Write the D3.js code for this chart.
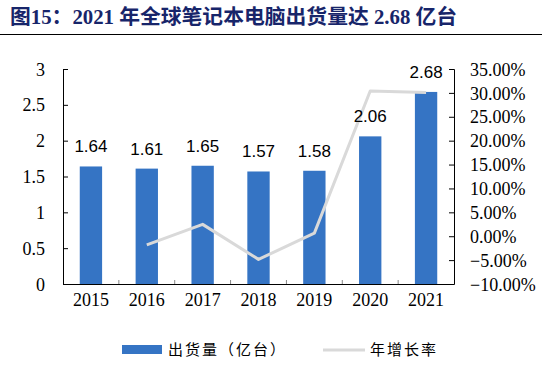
<!DOCTYPE html>
<html>
<head>
<meta charset="utf-8">
<script src="https://cdn.jsdelivr.net/npm/d3@7"></script>
<style>
  body { margin: 0; background: #fff; }
  #chart { width: 542px; height: 374px; }
</style>
</head>
<body>
<div id="chart"></div>
<script>
const years = ["2015", "2016", "2017", "2018", "2019", "2020", "2021"];
const shipments = [1.64, 1.61, 1.65, 1.57, 1.58, 2.06, 2.68];
const growth = [null, -1.83, 2.48, -4.85, 0.64, 30.38, 30.10];
const leftTicks = [0, 0.5, 1, 1.5, 2, 2.5, 3];
const rightTicks = [-10, -5, 0, 5, 10, 15, 20, 25, 30, 35];

const width = 542, height = 374;
const margin = { top: 69, right: 88, bottom: 90, left: 63 };

const svg = d3.select("#chart")
  .append("svg")
  .attr("width", width)
  .attr("height", height);

// title
svg.append("text")
  .attr("x", 10)
  .attr("y", 24)
  .attr("font-family", "'Liberation Serif', 'Noto Sans CJK SC', serif")
  .attr("font-weight", "bold")
  .attr("font-size", "20.8px")
  .attr("fill", "#17256a")
  .text("图15：2021 年全球笔记本电脑出货量达 2.68 亿台");

svg.append("line")
  .attr("x1", 0).attr("x2", width)
  .attr("y1", 34.5).attr("y2", 34.5)
  .attr("stroke", "#000")
  .attr("stroke-width", 1.2);

const x = d3.scaleBand()
  .domain(years)
  .range([margin.left, width - margin.right])
  .paddingInner(0.6)
  .paddingOuter(0.3);

const gap = x.step() - x.bandwidth();

const yL = d3.scaleLinear().domain([0, 3]).range([height - margin.bottom, margin.top]);
const yR = d3.scaleLinear().domain([-10, 35]).range([height - margin.bottom, margin.top]);

const serif = "'Liberation Serif', 'Times New Roman', serif";

// bars
svg.append("g")
  .selectAll("rect")
  .data(years)
  .enter().append("rect")
  .attr("x", d => x(d))
  .attr("y", (d, i) => yL(shipments[i]))
  .attr("width", x.bandwidth())
  .attr("height", (d, i) => yL(0) - yL(shipments[i]))
  .attr("fill", "#3574c4");

// growth line
const lineData = years.map((d, i) => ({ year: d, v: growth[i] })).filter(d => d.v !== null);
svg.append("path")
  .datum(lineData)
  .attr("fill", "none")
  .attr("stroke", "#d9d9d9")
  .attr("stroke-width", 3)
  .attr("stroke-linejoin", "round")
  .attr("d", d3.line()
    .x(d => x(d.year) + x.bandwidth() / 2)
    .y(d => yR(d.v)));

// bar labels (on top of the line)
svg.append("g")
  .selectAll("text")
  .data(years)
  .enter().append("text")
  .attr("x", d => x(d) + x.bandwidth() / 2)
  .attr("y", (d, i) => yL(shipments[i]) - 14)
  .attr("text-anchor", "middle")
  .attr("font-family", "'Liberation Sans', Arial, sans-serif")
  .attr("font-size", "17px")
  .attr("fill", "#000")
  .text((d, i) => shipments[i].toFixed(2));

// left axis
const axL = svg.append("g")
  .attr("transform", `translate(${margin.left},0)`)
  .call(d3.axisLeft(yL).tickValues(leftTicks).tickSize(-5).tickPadding(18)
    .tickFormat(d => d3.format("")(d)));

// right axis
const axR = svg.append("g")
  .attr("transform", `translate(${width - margin.right},0)`)
  .call(d3.axisRight(yR).tickValues(rightTicks).tickSize(-5).tickPadding(16)
    .tickFormat(d => d3.format(".2f")(d) + "%"));

[axL, axR].forEach(ax => {
  ax.selectAll("path, line").attr("stroke", "#000");
  ax.selectAll("text")
    .attr("font-family", serif)
    .attr("font-size", "18px")
    .attr("fill", "#000")
    .attr("dy", "0.34em");
});

// bottom axis
const base = yL(0);
svg.append("line")
  .attr("x1", margin.left).attr("x2", width - margin.right)
  .attr("y1", base + 0.5).attr("y2", base + 0.5)
  .attr("stroke", "#000");

svg.append("g")
  .selectAll("line")
  .data(years.slice(1))
  .enter().append("line")
  .attr("x1", d => x(d) - gap / 2)
  .attr("x2", d => x(d) - gap / 2)
  .attr("y1", base - 4)
  .attr("y2", base)
  .attr("stroke", "#888");

svg.append("g")
  .selectAll("text")
  .data(years)
  .enter().append("text")
  .attr("x", d => x(d) + x.bandwidth() / 2)
  .attr("y", base + 22)
  .attr("text-anchor", "middle")
  .attr("font-family", serif)
  .attr("font-size", "18px")
  .attr("fill", "#000")
  .text(d => d);

// legend
const lg = svg.append("g");
lg.append("rect")
  .attr("x", 122).attr("y", 345)
  .attr("width", 40).attr("height", 9)
  .attr("fill", "#3574c4");
lg.append("text")
  .attr("x", 168).attr("y", 355)
  .attr("font-family", "'Noto Sans CJK SC', sans-serif")
  .attr("font-size", "15px")
  .attr("letter-spacing", "2px")
  .attr("fill", "#000")
  .text("出货量（亿台）");
lg.append("line")
  .attr("x1", 323).attr("x2", 365)
  .attr("y1", 350).attr("y2", 350)
  .attr("stroke", "#d9d9d9")
  .attr("stroke-width", 3);
lg.append("text")
  .attr("x", 370).attr("y", 355)
  .attr("font-family", "'Noto Sans CJK SC', sans-serif")
  .attr("font-size", "15px")
  .attr("letter-spacing", "2px")
  .attr("fill", "#000")
  .text("年增长率");
</script>
</body>
</html>
